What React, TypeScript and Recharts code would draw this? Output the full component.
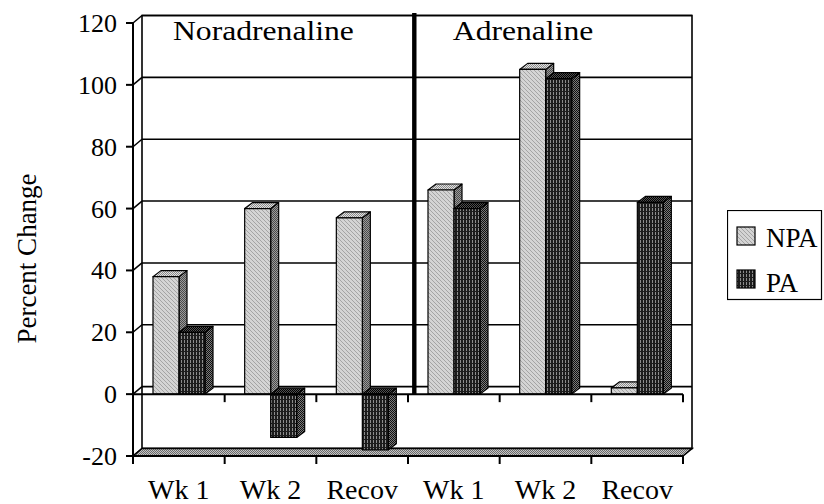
import React from "react";
import {
  BarChart,
  Bar,
  XAxis,
  YAxis,
  CartesianGrid,
  ReferenceArea,
  ReferenceLine,
  Legend,
} from "recharts";

// categories along the bottom (two hormone panels of three periods each)
const categoryIds = ["nor-wk1", "nor-wk2", "nor-recov", "adr-wk1", "adr-wk2", "adr-recov"];
const categoryLabels = ["Wk 1", "Wk 2", "Recov", "Wk 1", "Wk 2", "Recov"];
const panelLabels = ["Noradrenaline", "Adrenaline"];

// percent change per group
const npaValues = [38, 60, 57, 66, 105, 2];
const paValues = [20, -14, -18, 60, 102, 62];

const yTicks = [-20, 0, 20, 40, 60, 80, 100, 120];

const chartData = categoryIds.map((id, i) => ({
  id,
  label: categoryLabels[i],
  NPA: npaValues[i],
  PA: paValues[i],
}));

const FONT = '"Liberation Serif", "Times New Roman", serif';
const textStyle = { fontFamily: FONT };
// depth offsets for the fake 3D look
const WALL_DX = 9;
const WALL_DY = 7.5;
const BAR_DX = 8;
const BAR_DY = 6;

const Patterns = () => (
  <svg width={0} height={0} style={{ position: "absolute" }}>
    <defs>
      <pattern id="npaFront" width={4} height={4} patternUnits="userSpaceOnUse">
        <rect width={4} height={4} fill="#d4d4d4" />
        <path d="M0,0 L4,4 M-1,3 L1,5 M3,-1 L5,1" stroke="#a4a4a4" strokeWidth={1} />
      </pattern>
      <pattern id="npaTop" width={2} height={2} patternUnits="userSpaceOnUse">
        <rect width={2} height={2} fill="#e2e2e2" />
        <rect width={1} height={1} fill="#8a8a8a" />
        <rect x={1} y={1} width={1} height={1} fill="#8a8a8a" />
      </pattern>
      <pattern id="npaSide" width={2} height={2} patternUnits="userSpaceOnUse">
        <rect width={2} height={2} fill="#9a9a9a" />
        <rect width={1} height={1} fill="#4a4a4a" />
        <rect x={1} y={1} width={1} height={1} fill="#4a4a4a" />
      </pattern>
      <pattern id="paFront" width={3} height={4} patternUnits="userSpaceOnUse">
        <rect width={3} height={4} fill="#1c1c1c" />
        <rect x={1} y={0} width={1} height={3} fill="#8c8c8c" />
      </pattern>
      <pattern id="paSide" width={2} height={2} patternUnits="userSpaceOnUse">
        <rect width={2} height={2} fill="#7a7a7a" />
        <rect width={1} height={1} fill="#101010" />
        <rect x={1} y={1} width={1} height={1} fill="#101010" />
      </pattern>
      <pattern id="paTop" width={2} height={2} patternUnits="userSpaceOnUse">
        <rect width={2} height={2} fill="#505050" />
        <rect width={1} height={1} fill="#000" />
        <rect x={1} y={1} width={1} height={1} fill="#000" />
      </pattern>
      <pattern id="floorFill" width={2} height={2} patternUnits="userSpaceOnUse">
        <rect width={2} height={2} fill="#c4c4c4" />
        <rect width={1} height={1} fill="#6a6a6a" />
        <rect x={1} y={1} width={1} height={1} fill="#6a6a6a" />
      </pattern>
    </defs>
  </svg>
);

const seriesFaces: Record<string, { front: string; top: string; side: string }> = {
  NPA: { front: "npaFront", top: "npaTop", side: "npaSide" },
  PA: { front: "paFront", top: "paTop", side: "paSide" },
};

const makeBox = (series: string) => (props: any) => {
  const { x, y, width, height } = props;
  if (x == null || y == null) return <g />;
  const f = seriesFaces[series];
  const top = Math.min(y, y + height);
  const bottom = Math.max(y, y + height);
  const r = x + width;
  return (
    <g stroke="#000" strokeWidth={1.2} strokeLinejoin="round">
      <polygon
        points={`${r},${top} ${r + BAR_DX},${top - BAR_DY} ${r + BAR_DX},${bottom - BAR_DY} ${r},${bottom}`}
        fill={`url(#${f.side})`}
      />
      <polygon
        points={`${x},${top} ${x + BAR_DX},${top - BAR_DY} ${r + BAR_DX},${top - BAR_DY} ${r},${top}`}
        fill={`url(#${f.top})`}
      />
      <rect x={x} y={top} width={width} height={bottom - top} fill={`url(#${f.front})`} />
    </g>
  );
};

// gridlines sit on the back wall, joined to the front axis by a short diagonal
const renderGridLine = (props: any) => {
  const { x1, y1, x2 } = props;
  return (
    <g key={`grid-${y1}`}>
      <line x1={x1} y1={y1} x2={x1 + WALL_DX} y2={y1 - WALL_DY} stroke="#000" strokeWidth={1.5} />
      <line
        x1={x1 + WALL_DX}
        y1={y1 - WALL_DY}
        x2={x2 + WALL_DX}
        y2={y1 - WALL_DY}
        stroke="#000"
        strokeWidth={1.6}
      />
    </g>
  );
};

const categoryTicks = (left: number, width: number, y: number) =>
  categoryIds.concat("end").map((_, i) => {
    const tx = left + (i * width) / categoryIds.length;
    return <line key={i} x1={tx} y1={y} x2={tx} y2={y + 8} stroke="#000" strokeWidth={2} />;
  });

const renderWalls = (props: any) => {
  const { x, y, width, height } = props;
  const b = y + height;
  const r = x + width;
  return (
    <g>
      <rect
        x={x + WALL_DX}
        y={y - WALL_DY}
        width={width}
        height={height}
        fill="none"
        stroke="#000"
        strokeWidth={1.6}
      />
      <polygon
        points={`${x},${b} ${x + WALL_DX},${b - WALL_DY} ${r + WALL_DX},${b - WALL_DY} ${r},${b}`}
        fill="url(#floorFill)"
        stroke="#000"
        strokeWidth={1.6}
      />
      {categoryTicks(x, width, b)}
      {categoryLabels.map((label, i) => (
        <text
          key={i}
          x={x + ((i + 0.5) * width) / categoryLabels.length}
          y={b + 43}
          textAnchor="middle"
          fontSize={28}
          fill="#000"
          style={textStyle}
        >
          {label}
        </text>
      ))}
    </g>
  );
};

const renderZeroLine = (props: any) => {
  const { x1, x2, y1 } = props;
  return (
    <g>
      <line x1={x1} y1={y1} x2={x2} y2={y1} stroke="#000" strokeWidth={2} />
      {categoryTicks(x1, x2 - x1, y1)}
    </g>
  );
};

const panelTitle = (text: string, x: number, y: number) => (
  <text
    transform={`translate(${x},${y}) scale(1.13,1)`}
    fontSize={28}
    fill="#000"
    textAnchor="start"
    style={textStyle}
  >
    {text}
  </text>
);

const renderNorPanel = (props: any) => {
  const { x, y } = props;
  return <g>{panelTitle(panelLabels[0], x + 40, y + 16.5)}</g>;
};

const renderAdrPanel = (props: any) => {
  const { x, y, height } = props;
  const lineX = x + 6.3;
  return (
    <g>
      <rect x={lineX - 2.2} y={y - 10} width={4.4} height={height + 10} fill="#000" />
      {panelTitle(panelLabels[1], lineX + 38.5, y + 16.5)}
    </g>
  );
};

const renderValueTick = (props: any) => {
  const { x, y, payload } = props;
  return (
    <text x={x} y={y} dy={9} textAnchor="end" fontSize={26} fill="#000" style={textStyle}>
      {payload.value}
    </text>
  );
};

const renderYLabel = (props: any) => {
  const vb = props.viewBox || { x: 73, y: 23, height: 433 };
  return (
    <text
      transform={`translate(${vb.x - 37},${vb.y + vb.height / 2 + 19}) rotate(-90)`}
      textAnchor="middle"
      fontSize={27}
      fill="#000"
      style={textStyle}
    >
      Percent Change
    </text>
  );
};

const renderLegend = (props: any) => {
  const items = (props.payload || []).map((p: any) => String(p.dataKey ?? p.value));
  return (
    <svg width={96} height={91} style={{ display: "block" }}>
      <rect x={0.5} y={0.5} width={94} height={89} fill="#fff" stroke="#000" strokeWidth={1.2} />
      {items.map((key: string, i: number) => (
        <g key={key}>
          <rect
            x={10}
            y={17 + i * 43}
            width={18}
            height={18}
            fill={`url(#${seriesFaces[key].front})`}
            stroke="#000"
            strokeWidth={1.2}
          />
          <text x={39} y={36.5 + i * 45} fontSize={27} fill="#000" style={textStyle}>
            {key}
          </text>
        </g>
      ))}
    </svg>
  );
};

export default function App() {
  return (
    <div style={{ position: "absolute", left: 0, top: 0, width: 824, height: 504, background: "#fff" }}>
      <Patterns />
      <BarChart
        width={824}
        height={504}
        data={chartData}
        margin={{ top: 23, right: 141, bottom: 8, left: 73 }}
        barGap={0}
        barSize={26}
      >
        <CartesianGrid vertical={false} horizontal={renderGridLine} />
        <ReferenceArea y1={-20} y2={120} shape={renderWalls} ifOverflow="visible" />
        <ReferenceArea x1="nor-wk1" x2="nor-recov" y1={0} y2={120} shape={renderNorPanel} ifOverflow="visible" />
        <ReferenceArea x1="adr-wk1" x2="adr-recov" y1={0} y2={120} shape={renderAdrPanel} ifOverflow="visible" />
        <XAxis
          dataKey="id"
          height={40}
          interval={0}
          tickLine={false}
          tick={false}
          axisLine={{ stroke: "#000", strokeWidth: 2 }}
        />
        <YAxis
          type="number"
          domain={[-20, 120]}
          ticks={yTicks}
          interval={0}
          width={60}
          tickSize={7}
          tickMargin={9}
          axisLine={{ stroke: "#000", strokeWidth: 2 }}
          tickLine={{ stroke: "#000", strokeWidth: 2 }}
          tick={renderValueTick}
          label={{ content: renderYLabel }}
        />
        <Legend
          layout="vertical"
          align="center"
          verticalAlign="middle"
          content={renderLegend}
          wrapperStyle={{ left: 727, top: 210, width: 96, height: 91 }}
        />
        <Bar dataKey="NPA" shape={makeBox("NPA")} isAnimationActive={false} />
        <Bar dataKey="PA" shape={makeBox("PA")} isAnimationActive={false} />
        <ReferenceLine y={0} shape={renderZeroLine} />
      </BarChart>
    </div>
  );
}
